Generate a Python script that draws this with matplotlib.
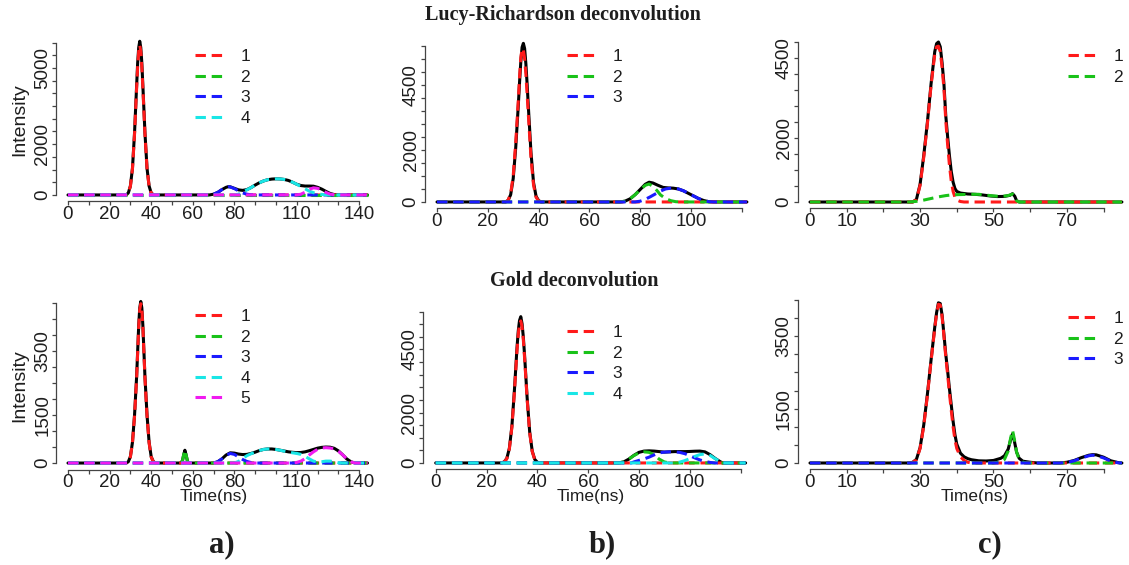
import matplotlib
matplotlib.use('Agg')
import matplotlib.pyplot as plt

W, H, DPI = 1129, 565, 100

# ---------------- data: (time ns, intensity) ----------------
# Lucy-Richardson, panel a
lr_a_black = [(0,0),(28,0),(29,80),(30,350),(31,1050),(32,2450),(33,4300),(33.5,5200),(34,5800),(34.5,6050),(35,5800),(35.5,5200),(36,4300),(37,2450),(38,1050),(39,350),(40,80),(41,10),(42,0),(68,0),(70,30),(72,100),(74,210),(76,300),(77,325),(78,320),(80,260),(82,200),(84,180),(86,210),(88,290),(90,390),(92,480),(94,550),(96,600),(98,625),(100,635),(102,630),(104,610),(106,570),(108,500),(110,420),(112,370),(114,350),(116,350),(118,345),(120,300),(122,230),(124,140),(126,60),(128,15),(130,0),(144,0)]
lr_a_c1 = [(0,0),(28,0),(29,75),(30,340),(31,1030),(32,2400),(33,4200),(33.5,5050),(34,5650),(34.5,5900),(35,5650),(35.5,5050),(36,4200),(37,2400),(38,1030),(39,340),(40,75),(41,10),(42,0),(144,0)]
lr_a_c2 = [(0,0),(144,0)]
lr_a_c3 = [(0,0),(68,0),(70,30),(72,100),(74,210),(76,300),(77,320),(78,315),(80,250),(82,160),(84,80),(86,30),(88,5),(90,0),(144,0)]
lr_a_c4 = [(0,0),(80,0),(82,30),(84,110),(86,200),(88,290),(90,390),(92,480),(94,550),(96,600),(98,625),(100,635),(102,630),(104,610),(106,570),(108,500),(110,420),(112,330),(114,240),(116,150),(118,90),(120,50),(122,20),(124,5),(126,0),(144,0)]
lr_a_c5 = [(0,0),(110,0),(112,30),(114,110),(116,220),(118,280),(120,260),(122,190),(124,100),(126,35),(128,5),(130,0),(144,0)]

# Lucy-Richardson, panel b
lr_b_black = [(0,0),(27,0),(28,60),(29,280),(30,900),(31,2100),(32,3700),(32.5,4600),(33,5400),(33.5,5950),(34,6100),(34.5,5900),(35,5300),(35.5,4500),(36,3600),(37,1900),(38,750),(39,220),(40,50),(41,0),(72,0),(74,30),(76,120),(78,280),(80,480),(82,680),(83.5,760),(85,730),(87,640),(89,560),(91,540),(93,530),(95,500),(97,430),(99,330),(101,230),(103,130),(105,55),(107,10),(109,0),(122,0)]
lr_b_c1 = [(0,0),(27,0),(28,70),(29,320),(30,1000),(31,2300),(32,3900),(32.5,4800),(33,5550),(33.5,5900),(34,5850),(34.5,5500),(35,4900),(35.5,4100),(36,3300),(37,1700),(38,650),(39,180),(40,40),(41,0),(122,0)]
lr_b_c2 = [(0,0),(72,0),(74,30),(76,120),(78,280),(80,470),(82,640),(83.5,690),(85,600),(86.5,450),(88,270),(90,130),(92,50),(94,10),(96,0),(122,0)]
lr_b_c3 = [(0,0),(78,0),(80,30),(82,100),(84,200),(86,310),(88,420),(90,500),(92,530),(93,530),(95,500),(97,430),(99,330),(101,230),(103,130),(105,55),(107,10),(109,0),(122,0)]

# Lucy-Richardson, panel c
lr_c_black = [(0,0),(28,0),(29,80),(30,550),(31,1450),(32,2500),(33,3700),(34,4700),(34.5,4950),(35,5000),(35.5,4850),(36,4350),(36.5,3700),(37,2700),(37.5,2050),(38,1450),(38.5,950),(39,620),(39.5,420),(40,330),(41,280),(43,250),(45,240),(47,220),(49,190),(51,170),(53,175),(54.5,210),(55.2,260),(55.8,180),(56.3,40),(57,0),(85,0)]
lr_c_c1 = [(0,0),(28,0),(29,70),(30,520),(31,1400),(32,2450),(33,3650),(34,4620),(34.5,4850),(35,4870),(35.5,4700),(36,4200),(36.5,3550),(37,2550),(37.5,1800),(38,1150),(38.5,650),(39,330),(39.5,150),(40,60),(41,15),(42,0),(85,0)]
lr_c_c2 = [(0,0),(27,0),(29,20),(31,60),(33,110),(35,160),(37,200),(38.5,220),(40,230),(42,235),(44,240),(46,240),(48,215),(50,190),(52,175),(54,200),(55.2,250),(55.8,170),(56.3,40),(57,0),(85,0)]

# Gold, panel a
gd_a_black = [(0,0),(28,0),(29,40),(30,200),(31,650),(32,1500),(33,2700),(33.5,3500),(34,4300),(34.5,4850),(35,5050),(35.5,4850),(36,4300),(36.5,3500),(37,2700),(38,1500),(39,650),(40,200),(41,50),(42,0),(54,0),(55,60),(55.6,250),(56.2,400),(56.8,250),(57.5,40),(58.5,0),(70,0),(72,40),(74,130),(76,250),(78,320),(80,310),(82,280),(84,265),(86,270),(88,300),(90,340),(92,390),(94,425),(96,440),(98,440),(100,425),(102,400),(104,375),(106,350),(108,335),(110,325),(112,330),(114,350),(116,385),(118,425),(120,465),(122,490),(124,500),(126,495),(128,460),(130,380),(132,260),(134,130),(136,40),(138,0),(144,0)]
gd_a_c1 = [(0,0),(28,0),(29,35),(30,190),(31,630),(32,1470),(33,2650),(33.5,3450),(34,4250),(34.5,4800),(35,4980),(35.5,4800),(36,4250),(36.5,3450),(37,2650),(38,1470),(39,630),(40,190),(41,45),(42,0),(144,0)]
gd_a_c2 = [(0,0),(54,0),(55,60),(55.6,250),(56.2,400),(56.8,250),(57.5,40),(58.5,0),(144,0)]
gd_a_c3 = [(0,0),(70,0),(72,40),(74,130),(76,240),(78,300),(80,270),(82,190),(84,110),(86,50),(88,15),(90,0),(144,0)]
gd_a_c4 = [(0,0),(80,0),(82,50),(84,140),(86,230),(88,290),(90,340),(92,390),(94,425),(96,440),(98,440),(100,425),(102,400),(104,370),(106,340),(108,320),(110,300),(112,270),(114,210),(116,130),(118,60),(120,30),(122,40),(124,60),(126,60),(128,40),(130,10),(132,0),(144,0)]
gd_a_c5 = [(0,0),(108,0),(110,20),(112,60),(114,140),(116,250),(118,350),(120,430),(122,470),(124,480),(126,470),(128,440),(130,370),(132,260),(134,130),(136,40),(138,0),(144,0)]

# Gold, panel b
gd_b_black = [(0,0),(26,0),(27,45),(28,180),(29,580),(30,1460),(31,2900),(32,4560),(32.5,5230),(33,5650),(33.5,5800),(34,5520),(34.5,4990),(35,4250),(35.5,3410),(36,2580),(37,1230),(38,470),(39,140),(40,30),(41,0),(72,0),(74,40),(76,150),(78,300),(80,420),(82,470),(84,480),(86,470),(88,450),(90,430),(92,440),(94,450),(96,450),(98,450),(100,455),(102,465),(104,470),(106,440),(108,330),(110,180),(112,50),(113,0),(122,0)]
gd_b_c1 = [(0,0),(26,0),(27,40),(28,170),(29,560),(30,1420),(31,2830),(32,4450),(32.5,5100),(33,5520),(33.5,5630),(34,5400),(34.5,4880),(35,4150),(35.5,3330),(36,2520),(37,1200),(38,450),(39,130),(40,30),(41,0),(122,0)]
gd_b_c2 = [(0,0),(72,0),(74,40),(76,150),(78,290),(80,400),(82,440),(84,420),(86,320),(88,150),(90,40),(92,0),(122,0)]
gd_b_c3 = [(0,0),(77,0),(78,40),(80,100),(82,160),(84,230),(86,320),(88,400),(90,430),(92,440),(94,440),(96,420),(98,370),(100,290),(102,200),(104,120),(106,60),(108,20),(110,0),(122,0)]
gd_b_c4 = [(0,0),(94,0),(96,30),(98,90),(100,170),(102,260),(104,330),(106,360),(108,300),(110,170),(112,50),(113,0),(122,0)]

# Gold, panel c
gd_c_black = [(0,0),(27,0),(28,20),(29,100),(30,420),(31,1050),(32,1900),(33,2850),(34,3750),(34.5,4150),(35,4420),(35.5,4400),(36,4080),(36.5,3550),(37,3000),(37.5,2550),(38,2050),(38.5,1600),(39,1150),(39.5,780),(40,520),(41,270),(42,170),(43,120),(44,90),(46,60),(48,55),(50,70),(52,130),(53,200),(54,380),(54.7,650),(55.2,800),(55.7,600),(56.3,300),(57,130),(58,50),(60,20),(62,0),(68,0),(70,20),(72,70),(74,150),(76,215),(77,230),(78,225),(80,160),(82,60),(84,10),(85,0)]
gd_c_c1 = [(0,0),(27,0),(28,15),(29,90),(30,400),(31,1020),(32,1870),(33,2820),(34,3720),(34.5,4120),(35,4380),(35.5,4360),(36,4040),(36.5,3500),(37,2930),(37.5,2450),(38,1930),(38.5,1450),(39,1000),(39.5,640),(40,400),(41,170),(42,70),(43,20),(44,0),(85,0)]
gd_c_c2 = [(0,0),(50,0),(52,30),(53,100),(54,330),(54.7,700),(55.2,900),(55.7,650),(56.3,300),(57,100),(58,20),(59,0),(85,0)]
gd_c_c3 = [(0,0),(68,0),(70,15),(72,60),(74,140),(76,200),(77,215),(78,205),(80,140),(82,50),(84,5),(85,0)]

# axis ticks / labels
xt_a = list(range(0, 141, 10))
xl_a = ['0', '', '20', '', '40', '', '60', '', '80', '', '', '110', '', '', '140']
xt_b = list(range(0, 121, 20))
xl_b = ['0', '20', '40', '60', '80', '100', '']
xt_c = list(range(0, 81, 10))
xl_c = ['0', '10', '', '30', '', '50', '', '70', '']
yt = list(range(0, 6001, 500))
yl_lr_a = ['0', '2000', '5000']
yl_lr_b = ['0', '2000', '4500']
yl_lr_c = ['0', '2000', '4500']
yl_gd_a = ['0', '1500', '3500']
yl_gd_b = ['0', '2000', '4500']
yl_gd_c = ['0', '1500', '3500']

comp_colors = ['#ff1a1a', '#19c219', '#1a1aff', '#19e6e6', '#f01af0']

# ---------------- figure ----------------
plt.rcParams['font.family'] = ['Liberation Sans', 'DejaVu Sans']
fig = plt.figure(figsize=(W / DPI, H / DPI), dpi=DPI)
fig.patch.set_facecolor('white')
TXT = '#1e1e1e'


def add_ax(l, t, r, b):
    return fig.add_axes([l / W, 1 - b / H, (r - l) / W, (b - t) / H])


def panel(rect, black, comps, nlegend, xt, xl, ylabels, leg_xy):
    ax = add_ax(*rect)
    bt, bv = zip(*black)
    ax.plot(bt, bv, color='black', lw=2.2, solid_capstyle='round', zorder=2)
    handles = []
    for i, c in enumerate(comps):
        ct, cv = zip(*c)
        ln, = ax.plot(ct, cv, color=comp_colors[i], lw=2.2, dashes=(3.4, 1.9), zorder=3 + i)
        handles.append(ln)
    ax.margins(x=0.04, y=0.04)
    ymax = ax.get_ylim()[1]
    yticks = [v for v in yt if v <= ymax]
    ylabs = [str(v) if str(v) in ylabels else '' for v in yticks]
    ax.set_xticks(xt)
    ax.set_xticklabels(xl, fontsize=13.5, color=TXT)
    ax.set_yticks(yticks)
    ax.set_yticklabels(ylabs, fontsize=13.5, rotation=90, va='center', color=TXT)
    for s in ('top', 'right'):
        ax.spines[s].set_visible(False)
    ax.spines['left'].set_bounds(0, yticks[-1])
    ax.spines['bottom'].set_bounds(xt[0], xt[-1])
    for s in ('left', 'bottom'):
        ax.spines[s].set_linewidth(0.9)
        ax.spines[s].set_color('#444444')
    ax.tick_params(direction='out', length=3.2, width=0.9, color='#444444', pad=0.3)
    ax.set_facecolor('none')
    lx, ly = leg_xy
    leg = ax.legend(handles[:nlegend], [str(i + 1) for i in range(nlegend)], loc='upper left',
                    bbox_to_anchor=(lx / W, 1 - ly / H), bbox_transform=fig.transFigure,
                    frameon=False, fontsize=12.5, handlelength=1.75, handletextpad=0.85,
                    labelspacing=0.31, borderpad=0, borderaxespad=0)
    for t in leg.get_texts():
        t.set_color(TXT)
    return ax


panel((56, 35.1, 379.5, 201.1), lr_a_black, [lr_a_c1, lr_a_c2, lr_a_c3, lr_a_c4, lr_a_c5], 4,
      xt_a, xl_a, yl_lr_a, (195, 49))
panel((424.6, 37.0, 759.3, 208.3), lr_b_black, [lr_b_c1, lr_b_c2, lr_b_c3], 3,
      xt_b, xl_b, yl_lr_b, (567, 49))
panel((797.5, 35.6, 1134.4, 208.4), lr_c_black, [lr_c_c1, lr_c_c2], 2,
      xt_c, xl_c, yl_lr_c, (1068, 49))
panel((56, 295.0, 379.5, 469.5), gd_a_black, [gd_a_c1, gd_a_c2, gd_a_c3, gd_a_c4, gd_a_c5], 5,
      xt_a, xl_a, yl_gd_a, (195, 309))
panel((423.3, 310.8, 758.0, 468.8), gd_b_black, [gd_b_c1, gd_b_c2, gd_b_c3, gd_b_c4], 4,
      xt_b, xl_b, yl_gd_b, (567, 325))
panel((797.5, 296.4, 1134.4, 469.4), gd_c_black, [gd_c_c1, gd_c_c2, gd_c_c3], 3,
      xt_c, xl_c, yl_gd_c, (1068, 311))

serif = ['Liberation Serif', 'DejaVu Serif']
fig.text(563 / W, 1 - 15 / H, 'Lucy-Richardson deconvolution', ha='center', va='center',
         family=serif, fontweight='bold', fontsize=14.5, color=TXT)
fig.text(574 / W, 1 - 281 / H, 'Gold deconvolution', ha='center', va='center',
         family=serif, fontweight='bold', fontsize=14.5, color=TXT)
for x, s in [(222, 'a)'), (602, 'b)'), (990, 'c)')]:
    fig.text(x / W, 1 - 545 / H, s, ha='center', va='center', family=serif,
             fontweight='bold', fontsize=22, color=TXT)
for y in (120, 386):
    fig.text(20 / W, 1 - y / H, 'Intensity', rotation=90, ha='center', va='center',
             fontsize=14, color=TXT)
for x in (214, 591, 975):
    fig.text(x / W, 1 - 497 / H, 'Time(ns)', ha='center', va='center', fontsize=12.5,
             color=TXT)

fig.savefig('out.png', dpi=DPI, facecolor='white')
